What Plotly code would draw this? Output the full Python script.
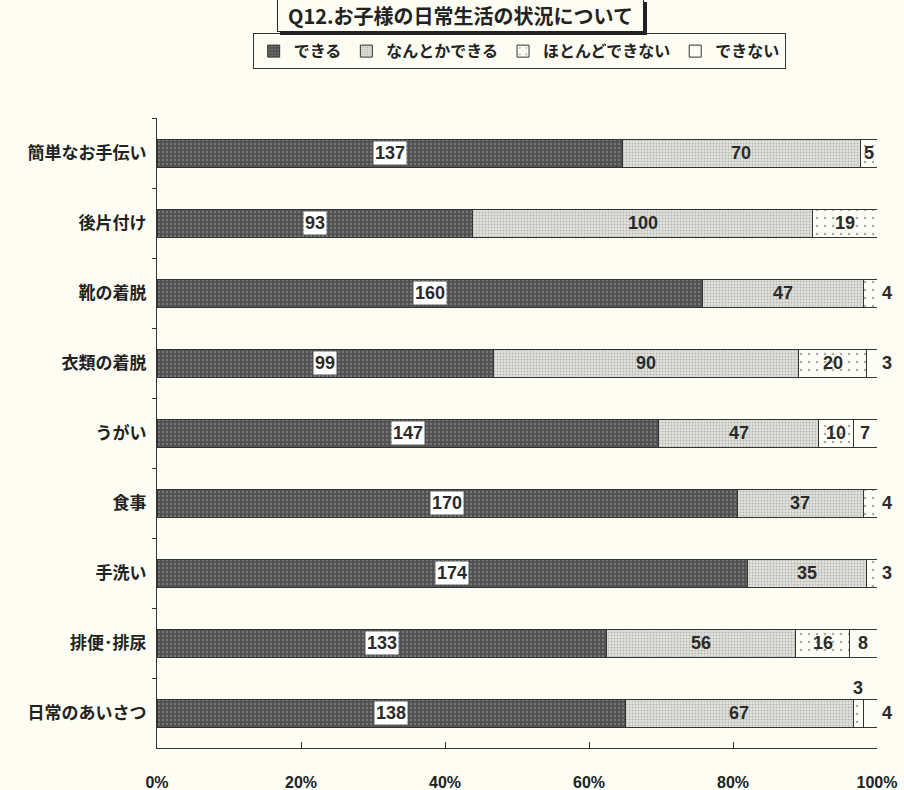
import plotly.graph_objects as go

categories = ["簡単なお手伝い", "後片付け", "靴の着脱", "衣類の着脱", "うがい",
              "食事", "手洗い", "排便･排尿", "日常のあいさつ"]
series_names = ["できる", "なんとかできる", "ほとんどできない", "できない"]
dekiru = [137, 93, 160, 99, 147, 170, 174, 133, 138]
nantoka = [70, 100, 47, 90, 47, 37, 35, 56, 67]
hotondo = [5, 19, 4, 20, 10, 4, 3, 16, 3]
dekinai = [0, 0, 0, 3, 7, 0, 0, 8, 4]
x_ticks = [0, 20, 40, 60, 80, 100]

series = [dekiru, nantoka, hotondo, dekinai]

# fill styles: (background, dot colour, dot size, solidity)
styles = [
    ("#505050", "#9c9c9c", 4, 0.3),
    ("#e2e2dc", "#8a8a8a", 3, 0.3),
    ("#fdfdf6", "#555555", 8, 0.08),
    ("#fdfdf6", "#fdfdf6", 8, 0.01),
]

JP = "Noto Sans CJK JP"
NUM = "Liberation Sans"
BG = "#fdfdf3"

fig = go.Figure()
for name, vals, (bg, fg, sz, sol) in zip(series_names, series, styles):
    fig.add_trace(go.Bar(
        y=categories, x=vals, name=name, orientation="h", width=0.4,
        marker=dict(color=bg, line=dict(color="#333333", width=1),
                    pattern=dict(shape=".", fgcolor=fg, bgcolor=bg,
                                 size=sz, solidity=sol, fillmode="overlay")),
        hoverinfo="skip",
    ))

# value labels, positioned from the data
label_font = dict(family=NUM, size=18, color="#2a2a2a", weight="bold")
annotations = []
for i, cat in enumerate(categories):
    row = [s[i] for s in series]
    total = sum(row)
    cum = 0
    smalls = [k for k, v in enumerate(row) if v > 0 and v / total * 100 < 2.2]
    for k, v in enumerate(row):
        if v == 0:
            continue
        start = cum / total * 100
        cum += v
        end = cum / total * 100
        mid = (start + end) / 2
        if k in smalls:
            if len(smalls) > 1 and k != smalls[-1]:
                annotations.append(dict(x=mid, y=cat, xref="x", yref="y", text=str(v),
                                        showarrow=False, yshift=25, font=label_font))
            else:
                annotations.append(dict(x=100, y=cat, xref="x", yref="y", text=str(v),
                                        showarrow=False, xanchor="left", xshift=3,
                                        font=label_font))
        elif k == 0:
            annotations.append(dict(x=mid, y=cat, xref="x", yref="y", text=str(v),
                                    showarrow=False, bgcolor="white", borderpad=1,
                                    font=label_font))
        else:
            annotations.append(dict(x=mid, y=cat, xref="x", yref="y", text=str(v),
                                    showarrow=False, font=label_font))

title_text = "&nbsp;&nbsp;Q12.お子様の日常生活の状況について&nbsp;&nbsp;"
# shadow box then title box
for shift, bg, col in [((3, -3), "#222222", "rgba(0,0,0,0)"), ((0, 0), BG, "#222")]:
    annotations.append(dict(x=0.422, y=1.163, xref="paper", yref="paper", text=title_text,
                            xanchor="center", yanchor="middle",
                            showarrow=False, xshift=shift[0], yshift=shift[1], bgcolor=bg,
                            borderpad=1, bordercolor="#222222", borderwidth=1,
                            font=dict(family=JP, size=20, color=col, weight="bold")))

fig.update_layout(
    barmode="stack",
    barnorm="percent",
    width=904, height=790,
    paper_bgcolor=BG, plot_bgcolor=BG,
    margin=dict(l=157, r=27, t=118, b=42, autoexpand=False),
    showlegend=True,
    legend=dict(orientation="h", x=0.503, y=1.106, xanchor="center", yanchor="middle",
                traceorder="normal",
                bgcolor=BG, bordercolor="#333", borderwidth=1,
                font=dict(family=JP, size=16, color="#222", weight="bold"),
                itemwidth=30, tracegroupgap=0),
    annotations=annotations,
    xaxis=dict(range=[0, 100], tickvals=x_ticks,
               ticktext=[f"{t}%" for t in x_ticks],
               ticks="inside", ticklen=6, tickcolor="#333",
               showline=True, linecolor="#333", linewidth=1, automargin=False,
               showgrid=False, zeroline=False, ticklabelstandoff=20,
               tickfont=dict(family=NUM, size=16, color="#222", weight="bold")),
    yaxis=dict(categoryorder="array", categoryarray=categories,
               range=[8.5, -0.5], autorange=False, tickson="boundaries",
               ticks="outside", ticklen=4, tickcolor="#333", automargin=False,
               showline=True, linecolor="#333", linewidth=1,
               showgrid=False, ticklabelstandoff=6,
               tickfont=dict(family=JP, size=17, color="#222", weight="bold")),
)

fig.write_html("out.html", config={"displayModeBar": False},
               post_script="document.body.style.margin='0';")
